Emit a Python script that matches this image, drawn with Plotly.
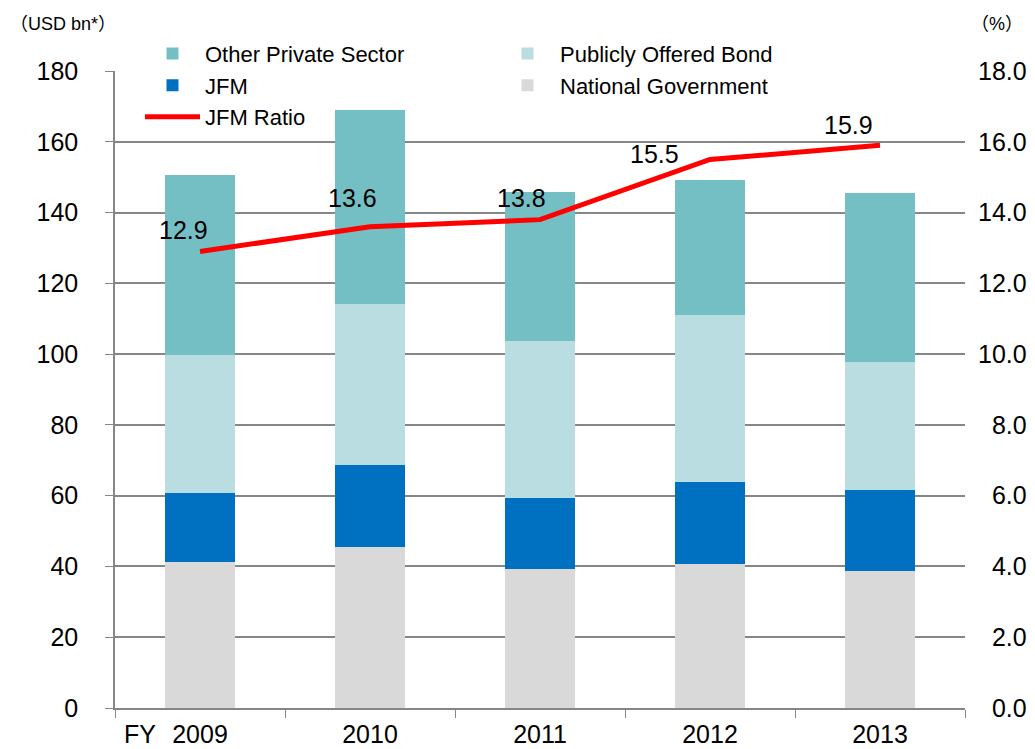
import plotly.graph_objects as go

years = ["2009", "2010", "2011", "2012", "2013"]
national_gov = [41.3, 45.6, 39.2, 40.8, 38.6]
jfm = [19.5, 23.0, 20.1, 23.1, 23.1]
public_bond = [39.0, 45.6, 44.5, 47.2, 36.0]
other_private = [50.9, 54.7, 42.0, 38.0, 47.7]
jfm_ratio = [12.9, 13.6, 13.8, 15.5, 15.9]
ratio_labels = ["12.9", "13.6", "13.8", "15.5", "15.9"]

left_ticks = [0, 20, 40, 60, 80, 100, 120, 140, 160, 180]
right_ticks = [0, 2, 4, 6, 8, 10, 12, 14, 16, 18]
right_ticktext = ["0.0", "2.0", "4.0", "6.0", "8.0", "10.0", "12.0", "14.0", "16.0", "18.0"]

FONT = "Liberation Sans, Arial, sans-serif"
FS = 25
CJK = "font-family:'Noto Sans CJK JP'"

fig = go.Figure()
bar_series = [
    ("National Government", national_gov, "#D9D9D9", 4),
    ("JFM", jfm, "#0070C0", 3),
    ("Publicly Offered Bond", public_bond, "#BADDE1", 2),
    ("Other Private Sector", other_private, "#74BFC4", 1),
]
for name, vals, color, rank in bar_series:
    fig.add_trace(go.Bar(
        x=years, y=vals, name=name, marker=dict(color=color, line=dict(width=0)),
        legendrank=rank, yaxis="y",
    ))

fig.add_trace(go.Scatter(
    x=years, y=jfm_ratio, name="JFM Ratio", mode="lines",
    line=dict(color="#FF0000", width=5), yaxis="y2", legendrank=5,
))

# data labels for ratio
shifts = [(-17, 21), (-18, 29), (-19, 22), (-56, 5), (-32, 20)]
for i, (v, lab) in enumerate(zip(jfm_ratio, ratio_labels)):
    dx, dy = shifts[i]
    fig.add_annotation(x=i, y=v, xref="x", yref="y2", text=lab, showarrow=False,
                       xshift=dx, yshift=dy, font=dict(size=FS, color="#000000", family=FONT))

fig.add_annotation(x=0, y=0, xref="x", yref="y", text="FY", showarrow=False,
                   xshift=-60, yshift=-26, font=dict(size=FS, color="#000000", family=FONT))

fig.add_annotation(xref="paper", yref="paper", x=-0.126, y=1.077, xanchor="left", yanchor="middle",
                   text=f"<span style=\"{CJK}\">（</span>USD bn*<span style=\"{CJK}\">）</span>",
                   showarrow=False, font=dict(size=18, color="#000000", family=FONT))
fig.add_annotation(xref="paper", yref="paper", x=1.07, y=1.077, xanchor="right", yanchor="middle",
                   text=f"<span style=\"{CJK}\">（</span>%<span style=\"{CJK}\">）</span>",
                   showarrow=False, font=dict(size=18, color="#000000", family=FONT))

fig.update_layout(
    width=1027, height=741,
    margin=dict(l=107, r=70, t=63, b=41, autoexpand=False),
    barmode="stack", bargap=0.59,
    plot_bgcolor="#FFFFFF", paper_bgcolor="#FFFFFF",
    font=dict(family=FONT, size=FS, color="#000000"),
    showlegend=True,
    legend=dict(
        orientation="h", x=0.0294, y=1.06, xanchor="left", yanchor="top",
        entrywidth=285, itemwidth=55, bgcolor="rgba(0,0,0,0)",
        font=dict(size=22, family=FONT, color="#000000"), tracegroupgap=0,
        traceorder="normal",
    ),
    xaxis=dict(
        type="category", range=[-0.5, 4.5], showgrid=False, showline=True,
        linecolor="#868686", linewidth=1.5, automargin=False,
        ticks="outside", tickson="boundaries", ticklen=8, tickcolor="#868686",
        tickfont=dict(size=FS, family=FONT, color="#000000"), ticklabelstandoff=3,
    ),
    yaxis=dict(
        range=[0, 180], tickvals=left_ticks, showgrid=True, gridcolor="#868686", gridwidth=1.5,
        showline=True, linecolor="#868686", linewidth=1.5, ticks="outside", ticklen=8,
        tickcolor="#868686", zeroline=False, tickfont=dict(size=FS, family=FONT, color="#000000"),
        ticklabelstandoff=22, automargin=False,
    ),
    yaxis2=dict(
        range=[0, 18], tickvals=right_ticks,
        ticktext=[("\u2007" if len(t) < 4 else "") + t for t in right_ticktext],
        overlaying="y", side="right",
        showgrid=False, showline=False, zeroline=False, ticks="", automargin=False,
        tickfont=dict(size=FS, family=FONT, color="#000000"), ticklabelstandoff=12,
    ),
)

fig.write_html("out.html")
